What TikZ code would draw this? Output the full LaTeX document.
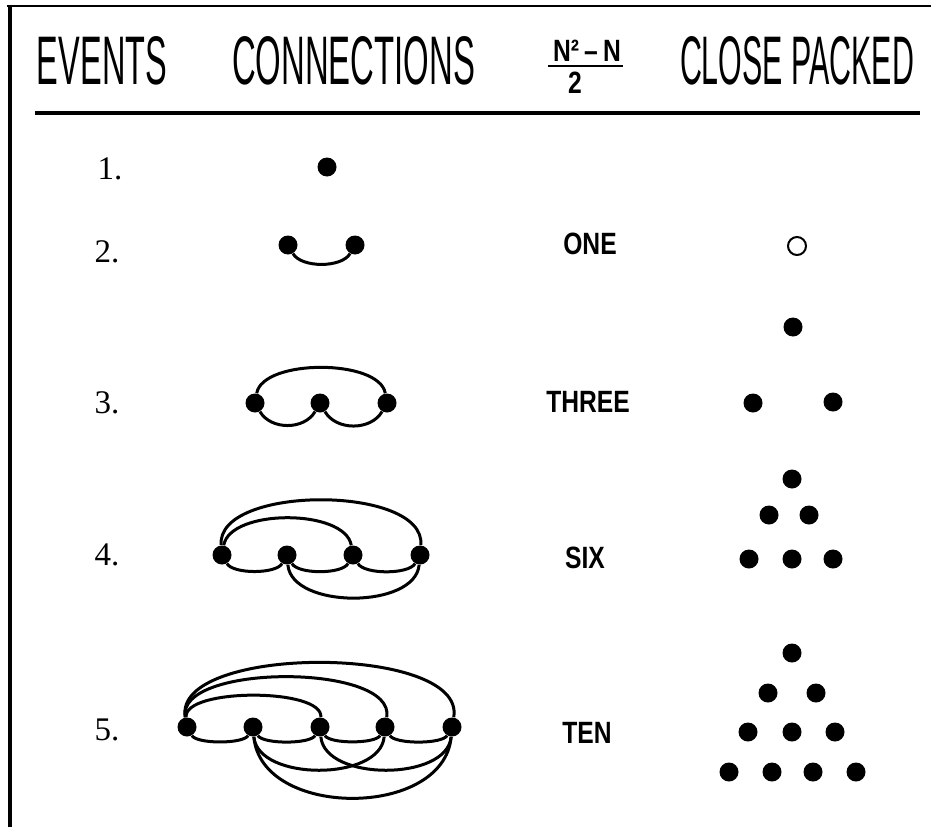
\documentclass[tikz,border=0pt]{standalone}
\usepackage{graphicx}
\usepackage{fontspec}
\setmainfont{Liberation Serif}
\newfontfamily\headfont{Liberation Sans}
\newfontfamily\labfont[FakeStretch=0.8]{Liberation Sans Bold}
\newcommand{\headtxt}[2]{\resizebox{#1}{24pt}{\headfont #2}}
\tikzset{
  dot/.style={circle,fill=black,inner sep=0pt,minimum size=9.5pt},
  opendot/.style={circle,draw=black,line width=1pt,inner sep=0pt,minimum size=9pt},
  link/.style={line width=1.5pt},
  num/.style={inner sep=0pt,font=\fontsize{16.5}{16}\selectfont},
  word/.style={inner sep=0pt,font=\labfont\fontsize{15.4}{16}\selectfont},
}
\begin{document}
\begin{tikzpicture}[x=0.5pt,y=0.5pt]
\useasboundingbox (0,0) rectangle (931,827);
% frame and header rule
\draw[line width=1.2pt] (7,821) -- (931,821);
\draw[line width=2pt] (9.5,822) -- (9.5,0);
\draw[line width=2pt] (35,714) -- (920,714);
% header
\node[inner sep=0pt] (hev) at (102,766) {\headtxt{65pt}{EVENTS}};
\node[inner sep=0pt] (hcon) at (353.5,766) {\headtxt{121.5pt}{CONNECTIONS}};
\node[inner sep=0pt] (hcp) at (797,766) {\headtxt{117pt}{CLOSE PACKED}};
\node[word] (hnum) at (587,776.5) {N²\,–\,N};
\draw[line width=1pt] (548,761) -- (623,761);
\node[word] (hden) at (575,744.5) {2};
% one event
\node[num] (n1) at (110,658) {1.};
\node[dot] (a1) at (327,660) {};
% two events
\node[num] (n2) at (107,575) {2.};
\node[dot] (b1) at (288,582) {};
\node[dot] (b2) at (355,582) {};
\draw[link] (b1) to[out=-60,in=-120,looseness=0.75] (b2);
\node[word] (w2) at (590,583) {ONE};
\node[opendot] (p2) at (797,581) {};
% three events
\node[num] (n3) at (107,424) {3.};
\node[dot] (c1) at (255,424) {};
\node[dot] (c2) at (320,424) {};
\node[dot] (c3) at (387,424) {};
\draw[link] (c1) to[out=-60,in=-120] (c2);
\draw[link] (c2) to[out=-60,in=-120] (c3);
\draw[link] (c1) to[out=80,in=100,looseness=0.7] (c3);
\node[word] (w3) at (588,425) {THREE};
\node[dot] (p31) at (793,500) {};
\node[dot] (p32) at (753,424) {};
\node[dot] (p33) at (833,425) {};
% four events
\node[num] (n4) at (107,272) {4.};
\node[dot] (d1) at (222,272) {};
\node[dot] (d2) at (287,272) {};
\node[dot] (d3) at (353,272) {};
\node[dot] (d4) at (420,272) {};
\draw[link] (d1) to[out=-60,in=-120,looseness=0.57] (d2);
\draw[link] (d2) to[out=-60,in=-120,looseness=0.57] (d3);
\draw[link] (d3) to[out=-60,in=-120,looseness=0.57] (d4);
\draw[link] (d1) to[out=80,in=100,looseness=0.75] (d3);
\draw[link] (d1) to[out=95,in=85,looseness=0.78] (d4);
\draw[link] (d2) to[out=-85,in=-95,looseness=0.87] (d4);
\node[word] (w4) at (585,269) {SIX};
\node[dot] (p41) at (792,348) {};
\node[dot] (p42) at (769,312) {};
\node[dot] (p43) at (809,312) {};
\node[dot] (p44) at (749,268) {};
\node[dot] (p45) at (792,268) {};
\node[dot] (p46) at (833,268) {};
% five events
\node[num] (n5) at (107,97) {5.};
\node[dot] (e1) at (187,100) {};
\node[dot] (e2) at (253,100) {};
\node[dot] (e3) at (320,100) {};
\node[dot] (e4) at (385,100) {};
\node[dot] (e5) at (452,100) {};
\draw[link] (e1) to[out=-60,in=-120,looseness=0.45] (e2);
\draw[link] (e2) to[out=-60,in=-120,looseness=0.45] (e3);
\draw[link] (e3) to[out=-60,in=-120,looseness=0.45] (e4);
\draw[link] (e4) to[out=-60,in=-120,looseness=0.45] (e5);
\draw[link] (e1) to[out=95,in=85,looseness=0.56] (e3);
\draw[link] (e1) to[out=100,in=80,looseness=0.7] (e4);
\draw[link] (e1) to[out=100,in=80,looseness=0.71] (e5);
\draw[link] (e2) to[out=-85,in=-95,looseness=0.88] (e4);
\draw[link] (e3) to[out=-85,in=-95,looseness=0.88] (e5);
\draw[link] (e2) to[out=-85,in=-95,looseness=1.07] (e5);
\node[word] (w5) at (587,94) {TEN};
\node[dot] (p51) at (792,174) {};
\node[dot] (p52) at (768,134) {};
\node[dot] (p53) at (816,134) {};
\node[dot] (p54) at (748,95) {};
\node[dot] (p55) at (792,95) {};
\node[dot] (p56) at (835,95) {};
\node[dot] (p57) at (729,55) {};
\node[dot] (p58) at (772,55) {};
\node[dot] (p59) at (813,55) {};
\node[dot] (p510) at (856,55) {};
\end{tikzpicture}
\end{document}
